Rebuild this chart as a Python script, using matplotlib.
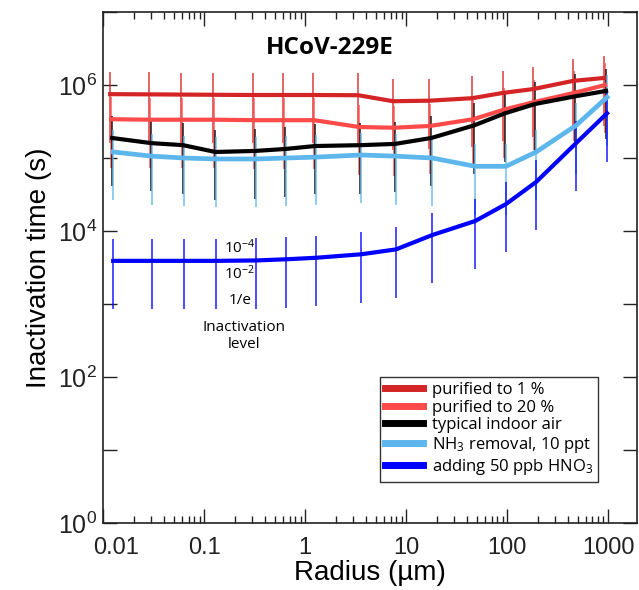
import numpy as np
import matplotlib
matplotlib.use("Agg")
import matplotlib.pyplot as plt
from matplotlib.ticker import FixedLocator, FuncFormatter, LogLocator, NullFormatter
from matplotlib.transforms import ScaledTranslation

plt.rcParams["font.family"] = ["Liberation Sans", "DejaVu Sans"]
plt.rcParams["mathtext.default"] = "regular"

# particle radius (um) at which the model was evaluated
radius = [0.0117, 0.0285, 0.059, 0.123, 0.305, 0.605, 1.2, 3.35,
          7.4, 16.9, 45, 91, 181, 450, 912]

# inactivation time (s) at 10^-2 level
purified_1 = [7.5e5, 7.45e5, 7.4e5, 7.35e5, 7.3e5, 7.3e5, 7.3e5, 7.25e5,
              6.0e5, 6.1e5, 6.6e5, 7.8e5, 8.8e5, 1.14e6, 1.25e6]
purified_20 = [3.4e5, 3.35e5, 3.35e5, 3.35e5, 3.3e5, 3.3e5, 3.3e5, 2.66e5,
               2.6e5, 2.75e5, 3.4e5, 4.6e5, 5.85e5, 7.8e5, 1.0e6]
indoor_air = [1.88e5, 1.6e5, 1.5e5, 1.21e5, 1.25e5, 1.33e5, 1.46e5, 1.5e5,
              1.56e5, 1.88e5, 2.8e5, 4.1e5, 5.5e5, 7.0e5, 8.3e5]
nh3_removal = [1.21e5, 1.06e5, 1.0e5, 9.7e4, 9.7e4, 1.0e5, 1.03e5, 1.1e5,
               1.06e5, 1.0e5, 7.7e4, 7.7e4, 1.21e5, 2.8e5, 6.8e5]
hno3_added = [3.9e3, 3.9e3, 3.9e3, 3.9e3, 3.95e3, 4.1e3, 4.3e3, 4.8e3,
              5.6e3, 8.8e3, 1.37e4, 2.34e4, 4.7e4, 1.6e5, 4.1e5]

# time to reach 10^-4 and 1/e relative to the 10^-2 time
ratio_hi = 2.0
ratio_lo = 1 / 4.6

labels = ["purified to 1 %", "purified to 20 %", "typical indoor air",
          "NH$_3$ removal, 10 ppt", "adding 50 ppb HNO$_3$"]
colors = ["#d42426", "#ff4a4a", "#000000", "#5db6ec", "#0000ff"]
series = [purified_1, purified_20, indoor_air, nh3_removal, hno3_added]
widths = [3.0, 3.0, 3.0, 3.4, 3.0]
dodge_px = [0, 1, 2, 3, 3]

fig = plt.figure(figsize=(6.39, 5.90), dpi=100)
ax = fig.add_axes([0.161, 0.1136, 0.836, 0.866])

r = np.array(radius)
for ys, c, lab, lw, d in zip(series, colors, labels, widths, dodge_px):
    ys = np.array(ys)
    xr = r * 10 ** (d / 101)
    ax.vlines(xr, ys * ratio_lo, ys * ratio_hi, color=c, lw=1.4, alpha=0.7, zorder=2)
    ax.plot(xr, ys, color=c, lw=lw, label=lab, zorder=3)

ax.set_xscale("log")
ax.set_yscale("log")
ax.set_xlim(0.0099, 1937)
ax.set_ylim(1, 1e7)

ax.xaxis.set_major_locator(LogLocator(base=10, numticks=20))
ax.xaxis.set_minor_locator(LogLocator(base=10, subs=np.arange(2, 10), numticks=20))
ax.xaxis.set_major_formatter(FuncFormatter(lambda v, _: f"{v:g}"))
ax.xaxis.set_minor_formatter(NullFormatter())

ax.yaxis.set_major_locator(FixedLocator([10.0 ** k for k in range(0, 8)]))
ax.yaxis.set_minor_locator(FixedLocator([]))
ax.yaxis.set_major_formatter(FuncFormatter(
    lambda v, _: f"$10^{{{int(round(np.log10(v)))}}}$" if int(round(np.log10(v))) % 2 == 0 else ""))

ax.tick_params(which="both", direction="in", top=True, right=True, width=1, colors="#222222")
ax.tick_params(axis="x", which="major", length=10, labelsize=17, pad=10)
ax.tick_params(axis="x", which="minor", length=5)
ax.tick_params(axis="y", which="major", length=10, labelsize=18, pad=4)
for sp in ax.spines.values():
    sp.set_linewidth(1.2)
    sp.set_color("#222222")

ax.set_xlabel("Radius (\u00b5m)", fontsize=20, labelpad=1)
ax.set_ylabel("Inactivation time (s)", fontsize=20, labelpad=4)

ax.text(0.425, 0.93, "HCoV-229E", transform=ax.transAxes, ha="center", va="center",
        fontsize=17.5, fontweight="bold", family=["Open Sans", "DejaVu Sans"])

ann = dict(ha="center", va="center", fontsize=11, family=["Open Sans", "DejaVu Sans"])
ax.text(0.225, 6.0e3, "10$^{-4}$", **ann)
ax.text(0.225, 2.6e3, "10$^{-2}$", **ann)
ax.text(0.225, 1.1e3, "1/e", **ann)
ax.text(0.245, 3.6e2, "Inactivation\nlevel", linespacing=1.2, **ann)

leg = ax.legend(loc="upper left", bbox_to_anchor=(0.519, 0.286), frameon=True, fancybox=False,
                edgecolor="black", handlelength=2.3, handletextpad=0.5, borderpad=0.3,
                borderaxespad=0.0, labelspacing=0.1,
                prop={"family": ["Open Sans", "DejaVu Sans"], "size": 12})
leg.get_frame().set_linewidth(1.0)
for h in leg.get_lines():
    h.set_linewidth(5)

# the first x label sits a bit right of its tick, as in the original
fig.canvas.draw()
for t in ax.xaxis.get_major_ticks():
    if abs(t.get_loc() - 0.01) < 1e-9:
        t.label1.set_transform(t.label1.get_transform() + ScaledTranslation(0.13, 0, fig.dpi_scale_trans))

fig.savefig("out.png", dpi=100)
